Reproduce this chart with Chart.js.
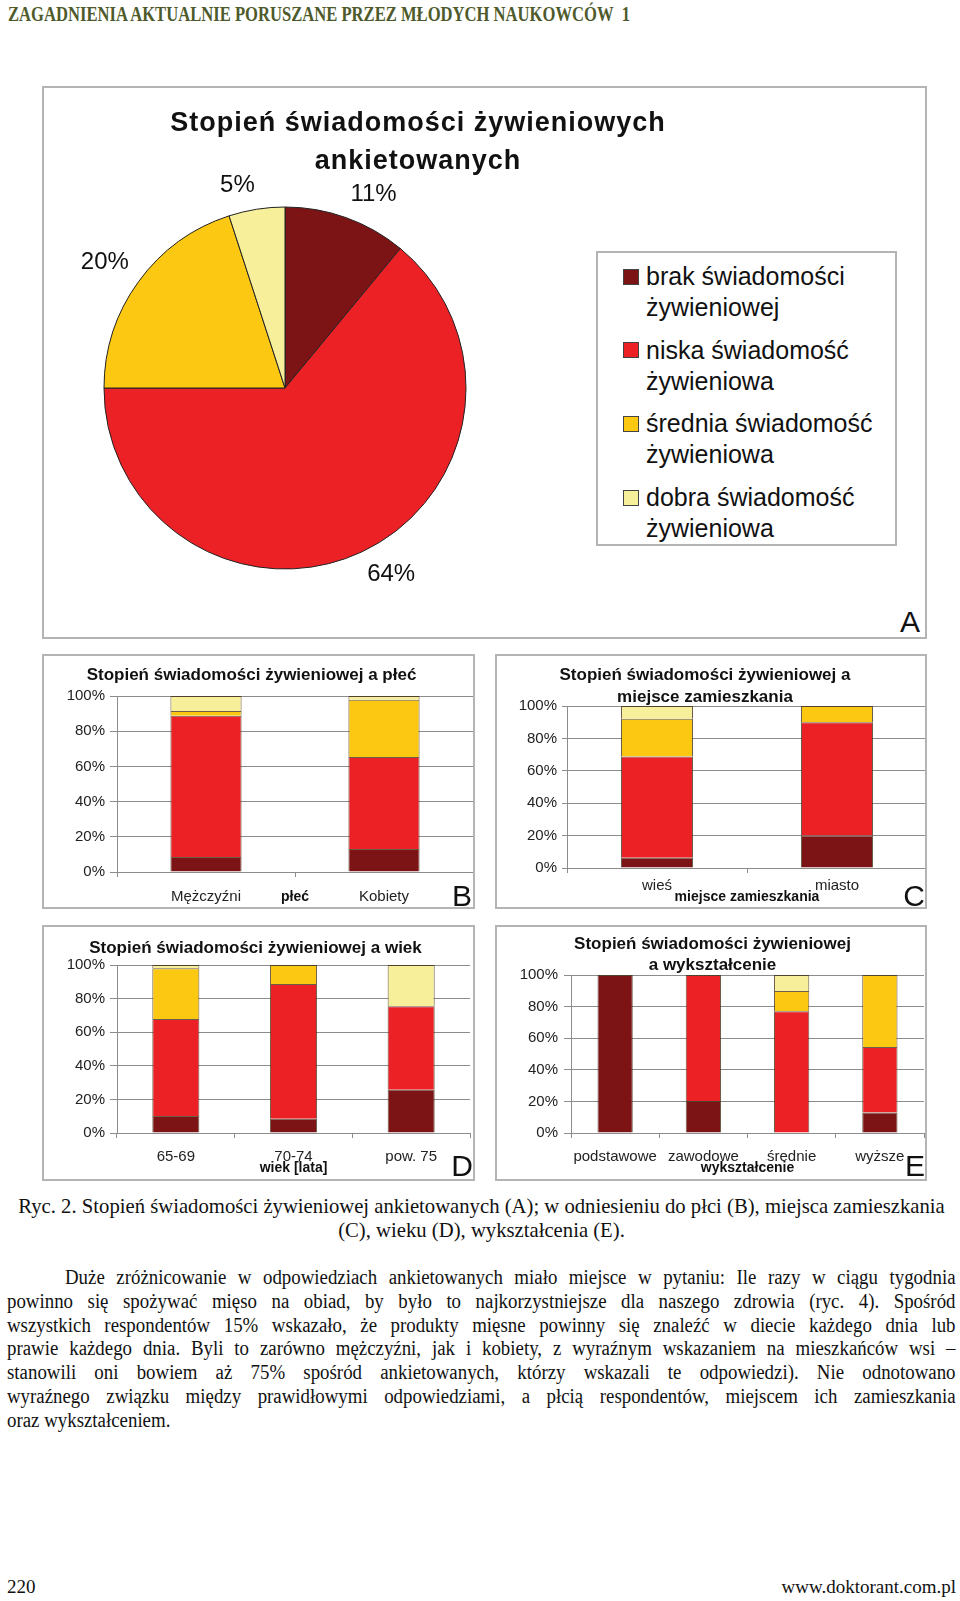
<!DOCTYPE html>
<html lang="pl">
<head>
<meta charset="utf-8">
<script src="https://cdn.jsdelivr.net/npm/chart.js@4.4.1/dist/chart.umd.min.js"></script>
<style>
  html, body { margin: 0; padding: 0; background: #fff; }
  body { width: 960px; height: 1601px; position: relative; overflow: hidden;
         font-family: "Liberation Serif", "Times New Roman", serif; color: #111; }
  .panel { position: absolute; box-sizing: border-box; border: 2px solid #b4b4b4; background: #fff; overflow: hidden; }
  .panel canvas { position: absolute; top: -2px; }
  .letter { position: absolute; font-family: "Liberation Sans", Arial, sans-serif; font-size: 30px; line-height: 30px;
            color: #111; transform: translate(-50%, -50%); }
  .sans { font-family: "Liberation Sans", Arial, sans-serif; }
  #header { position: absolute; left: 8px; top: 3px; font-weight: bold; font-size: 20px; color: #4e5a2b;
            white-space: nowrap; transform: scaleX(0.83); transform-origin: left top; }
  #pieTitle { position: absolute; left: 118px; width: 600px; top: 103px; text-align: center; font-weight: bold;
              font-size: 27px; line-height: 38px; letter-spacing: 1px; color: #111; white-space: nowrap; }
  #legend { position: absolute; left: 596px; top: 251px; width: 301px; height: 295px; box-sizing: border-box;
            border: 2px solid #b4b4b4; background: #fff; }
  .item { position: absolute; left: 0; }
  .swatch { position: absolute; left: 25px; width: 16px; height: 16px; box-sizing: border-box; border: 1px solid #444; }
  .itext { position: absolute; left: 48px; font-size: 25px; line-height: 31px; white-space: nowrap; color: #111; }
  .block { position: absolute; left: 7px; width: 949px; font-size: 19px; line-height: 23.8px; }
  .para { position: absolute; left: 7px; width: 1031px; font-size: 20.5px; line-height: 23.8px;
          transform: scaleX(0.92); transform-origin: left top; }
  .line { white-space: nowrap; text-align: justify; text-align-last: justify; }
</style>
</head>
<body>
<div id="header">ZAGADNIENIA AKTUALNIE PORUSZANE PRZEZ MŁODYCH NAUKOWCÓW&nbsp; 1</div>

<div class="panel" style="left:42px; top:86px; width:885px; height:553px;">
  <canvas id="chartA" width="520" height="553" style="left:-2px"></canvas>
</div>
<div id="pieTitle" class="sans">Stopień świadomości żywieniowych<br>ankietowanych</div>
<div id="legend" class="sans"></div>

<div class="panel" style="left:42px; top:654px; width:433px; height:255px;">
  <canvas id="chartB"></canvas>
</div>
<div class="panel" style="left:495px; top:654px; width:432px; height:255px;">
  <canvas id="chartC"></canvas>
</div>
<div class="panel" style="left:42px; top:925px; width:433px; height:256px;">
  <canvas id="chartD"></canvas>
</div>
<div class="panel" style="left:495px; top:925px; width:432px; height:256px;">
  <canvas id="chartE"></canvas>
</div>

<div class="letter" style="left:910px; top:622px;">A</div>
<div class="letter" style="left:462px; top:896px;">B</div>
<div class="letter" style="left:914px; top:896px;">C</div>
<div class="letter" style="left:462px; top:1166px;">D</div>
<div class="letter" style="left:915px; top:1166px;">E</div>

<div class="block" style="top:1195px; text-align:center; font-size:20.7px;">
  Ryc. 2. Stopień świadomości żywieniowej ankietowanych (A); w odniesieniu do płci (B), miejsca zamieszkania<br>
  (C), wieku (D), wykształcenia (E).
</div>

<div class="para" style="top:1266px;">
  <div class="line" style="text-indent:63px;">Duże zróżnicowanie w odpowiedziach ankietowanych miało miejsce w pytaniu: Ile razy w ciągu tygodnia</div>
  <div class="line">powinno się spożywać mięso na obiad, by było to najkorzystniejsze dla naszego zdrowia (ryc. 4). Spośród</div>
  <div class="line">wszystkich respondentów 15% wskazało, że produkty mięsne powinny się znaleźć w diecie każdego dnia lub</div>
  <div class="line">prawie każdego dnia. Byli to zarówno mężczyźni, jak i kobiety, z wyraźnym wskazaniem na mieszkańców wsi –</div>
  <div class="line">stanowili oni bowiem aż 75% spośród ankietowanych, którzy wskazali te odpowiedzi). Nie odnotowano</div>
  <div class="line">wyraźnego związku między prawidłowymi odpowiedziami, a płcią respondentów, miejscem ich zamieszkania</div>
  <div style="white-space:nowrap;">oraz wykształceniem.</div>
</div>

<div class="block" style="top:1575px;">
  <span>220</span><span style="float:right;">www.doktorant.com.pl</span>
</div>

<script>
// categories shared by every chart
const levels = ['brak świadomości żywieniowej', 'niska świadomość żywieniowa',
                'średnia świadomość żywieniowa', 'dobra świadomość żywieniowa']
const levelLines = [['brak świadomości', 'żywieniowej'], ['niska świadomość', 'żywieniowa'],
                    ['średnia świadomość', 'żywieniowa'], ['dobra świadomość', 'żywieniowa']]
const levelColors = ['#7c1416', '#ec2126', '#fdc812', '#f7ef9a']
const percentTicks = [0, 20, 40, 60, 80, 100]

// A - overall (%)
const overallValues = [11, 64, 20, 5]

// B - sex
const sexLabels = ['Mężczyźni', 'Kobiety']
const sexBrak = [8.5, 13.1]
const sexNiska = [80.3, 52.2]
const sexSrednia = [2.7, 32.6]
const sexDobra = [8.5, 2.1]

// C - place of residence
const placeLabels = ['wieś', 'miasto']
const placeBrak = [6.4, 20.0]
const placeNiska = [62.4, 69.9]
const placeSrednia = [23.3, 10.1]
const placeDobra = [7.9, 0]

// D - age
const ageLabels = ['65-69', '70-74', 'pow. 75']
const ageBrak = [10.1, 8.5, 25.8]
const ageNiska = [57.8, 80.2, 49.6]
const ageSrednia = [30.1, 11.3, 0]
const ageDobra = [2.0, 0, 24.6]

// E - education
const eduLabels = ['podstawowe', 'zawodowe', 'średnie', 'wyższe']
const eduBrak = [100, 20.3, 0, 12.9]
const eduNiska = [0, 79.7, 77.0, 41.5]
const eduSrednia = [0, 0, 12.9, 45.6]
const eduDobra = [0, 0, 10.1, 0]

Chart.defaults.font.family = '"Liberation Sans", Arial, sans-serif'
Chart.defaults.color = '#222'

// html legend of panel A
const legendEl = document.getElementById('legend')
levelLines.forEach((lines, i) => {
    const item = document.createElement('div')
    item.className = 'item'
    item.style.top = (8 + i * 73.7) + 'px'
    item.innerHTML = `<div class="swatch" style="top:7.5px;background:${levelColors[i]}"></div>` +
        `<div class="itext">${lines.join('<br>')}</div>`
    legendEl.appendChild(item)
})

const pieLabels = {
    id: 'pieLabels',
    afterDatasetsDraw(chart) {
        const ctx = chart.ctx
        const meta = chart.getDatasetMeta(0)
        ctx.save()
        ctx.font = '24px "Liberation Sans", Arial, sans-serif'
        ctx.fillStyle = '#111'
        meta.data.forEach((arc, i) => {
            const p = arc.getProps(['x', 'y', 'startAngle', 'endAngle', 'outerRadius'], true)
            const mid = (p.startAngle + p.endAngle) / 2
            const r = p.outerRadius + 12
            ctx.textAlign = Math.cos(mid) >= 0 ? 'left' : 'right'
            ctx.textBaseline = Math.sin(mid) >= 0 ? 'top' : 'bottom'
            ctx.fillText(overallValues[i] + '%', p.x + Math.cos(mid) * r, p.y + Math.sin(mid) * r)
        })
        ctx.restore()
    }
}

new Chart(document.getElementById('chartA'), {
    type: 'pie',
    data: {
        labels: levels,
        datasets: [{
            data: overallValues,
            backgroundColor: levelColors,
            borderColor: '#222',
            borderWidth: 1
        }]
    },
    options: {
        responsive: false,
        animation: false,
        layout: {padding: {left: 61.5, top: 120.5, right: 95.5, bottom: 69.5}},
        plugins: {legend: {display: false}, tooltip: {enabled: false}}
    },
    plugins: [pieLabels]
})

const gridGray = '#8c8c8c'

function stackedChart(id, g, labels, series, title, axisTitle) {
    const canvas = document.getElementById(id)
    canvas.width = g.w
    canvas.height = g.h
    canvas.style.left = (g.ox - 2) + 'px'
    return new Chart(canvas, {
        type: 'bar',
        data: {
            labels: labels,
            datasets: series.map((data, i) => ({
                label: levels[i],
                data: data,
                backgroundColor: levelColors[i],
                borderColor: 'rgba(60, 40, 15, 0.75)',
                borderWidth: 1,
                barPercentage: 0.4,
                categoryPercentage: 1
            }))
        },
        options: {
            responsive: false,
            animation: false,
            layout: {padding: {left: 0, right: g.padRight, top: 0, bottom: 0}},
            plugins: {
                legend: {display: false},
                tooltip: {enabled: false},
                title: {
                    display: true,
                    text: title,
                    color: '#111',
                    font: {size: 17, weight: 'bold', lineHeight: g.titleLH + 'px'},
                    padding: {top: g.titleTop, bottom: g.titleBottom}
                }
            },
            scales: {
                x: {
                    stacked: true,
                    offset: true,
                    grid: {display: true, drawOnChartArea: false, offset: true, tickLength: 5, color: gridGray},
                    border: {color: gridGray},
                    ticks: {color: '#222', font: {size: 15}, padding: g.xPad, maxRotation: 0, autoSkip: false},
                    title: {
                        display: true,
                        text: axisTitle,
                        color: '#111',
                        font: {size: 14, weight: 'bold'},
                        padding: {top: 0, bottom: g.axisBottom}
                    },
                    afterFit: (s) => { s.height = g.xHeight }
                },
                y: {
                    stacked: true,
                    min: 0,
                    max: 100,
                    afterBuildTicks: (s) => { s.ticks = percentTicks.map(v => ({value: v})) },
                    ticks: {callback: (v) => v + '%', color: '#222', font: {size: 15}, padding: g.yPad},
                    grid: {color: gridGray, tickLength: g.yTick},
                    border: {color: gridGray},
                    afterFit: (s) => { s.width = g.yWidth }
                }
            }
        }
    })
}

stackedChart('chartB',
    {w: 451, h: 255, ox: -12, padRight: 8, yWidth: 87, yTick: 7, yPad: 5, xHeight: 37, xPad: 11,
     axisBottom: 3.6, titleLH: 20.4, titleTop: 10.8, titleBottom: 10.8},
    sexLabels, [sexBrak, sexNiska, sexSrednia, sexDobra],
    'Stopień świadomości żywieniowej a płeć', 'płeć')

stackedChart('chartC',
    {w: 452, h: 255, ox: -12, padRight: 8, yWidth: 84, yTick: 5, yPad: 5, xHeight: 41, xPad: 4,
     axisBottom: 3.6, titleLH: 22, titleTop: 10, titleBottom: -2},
    placeLabels, [placeBrak, placeNiska, placeSrednia, placeDobra],
    ['Stopień świadomości żywieniowej a', 'miejsce zamieszkania'], 'miejsce zamieszkania')

stackedChart('chartD',
    {w: 440, h: 256, ox: -1, padRight: 11, yWidth: 76, yTick: 7, yPad: 5, xHeight: 48, xPad: 10,
     axisBottom: 4.6, titleLH: 20.4, titleTop: 12.8, titleBottom: 6.8},
    ageLabels, [ageBrak, ageNiska, ageSrednia, ageDobra],
    'Stopień świadomości żywieniowej a wiek', 'wiek [lata]')

stackedChart('chartE',
    {w: 435, h: 256, ox: 6, padRight: 12, yWidth: 70, yTick: 7, yPad: 6, xHeight: 48, xPad: 10,
     axisBottom: 4.6, titleLH: 21, titleTop: 8.5, titleBottom: -0.5},
    eduLabels, [eduBrak, eduNiska, eduSrednia, eduDobra],
    ['Stopień świadomości żywieniowej', 'a wykształcenie'], 'wykształcenie')
</script>
</body>
</html>
